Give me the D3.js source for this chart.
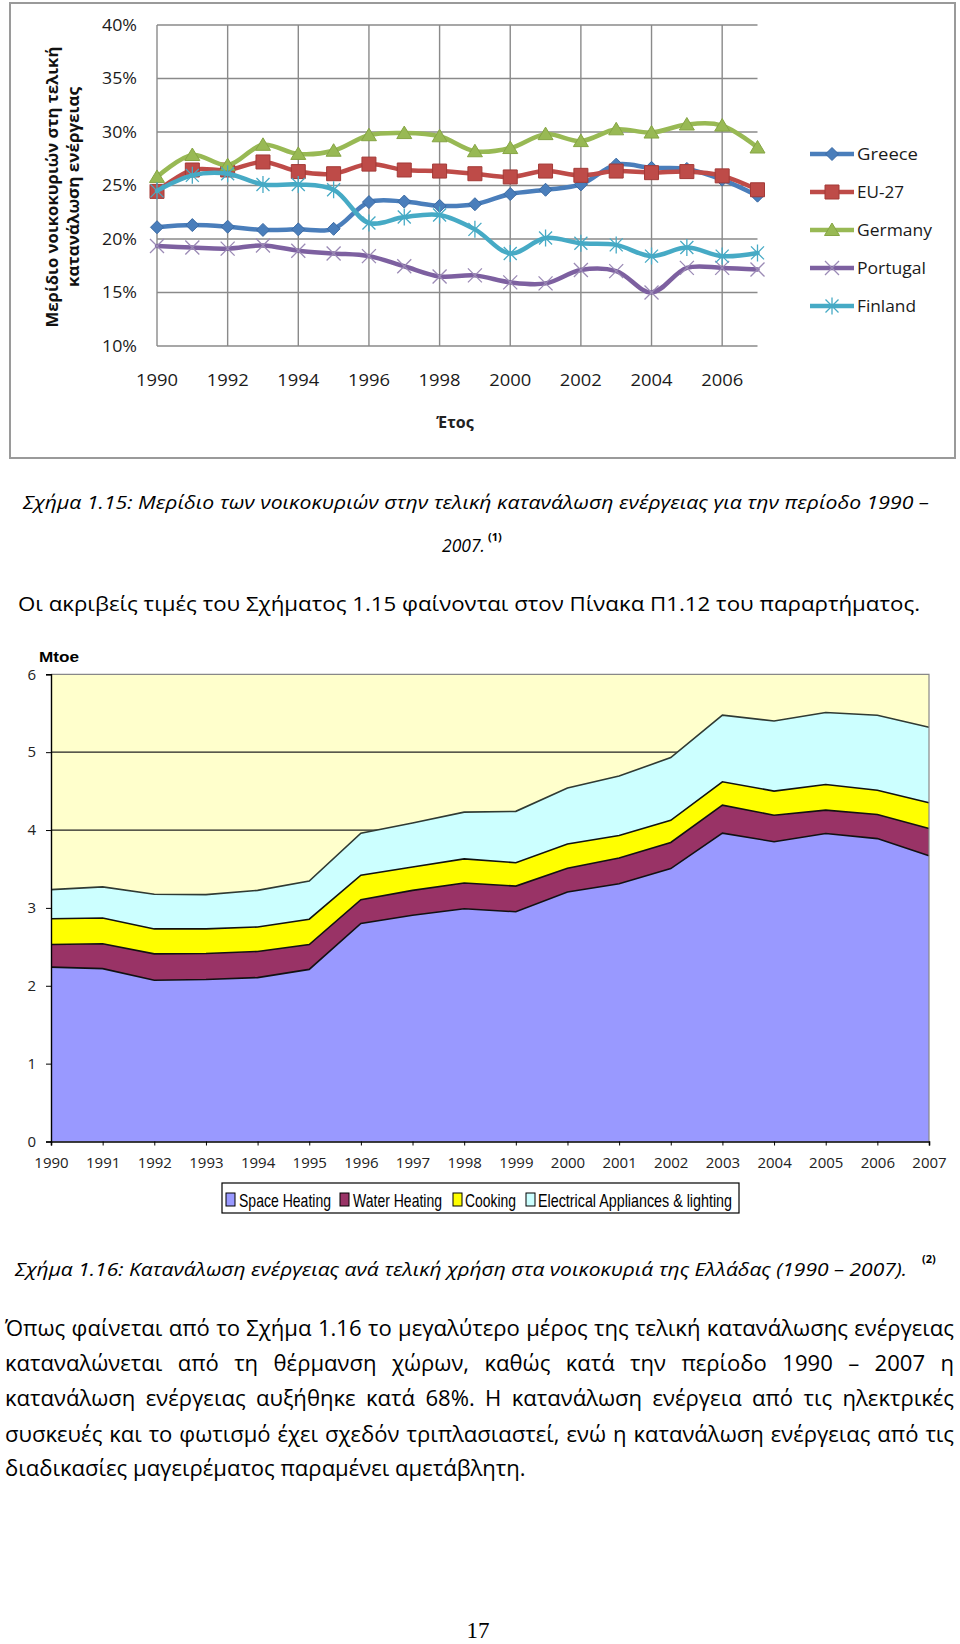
<!DOCTYPE html>
<html>
<head>
<meta charset="utf-8">
<script src="https://cdn.jsdelivr.net/npm/d3@7"></script>
<style>
  html, body { margin: 0; padding: 0; background: #fff; }
  svg { display: block; }
</style>
</head>
<body>
<svg id="page" width="960" height="1644"></svg>
<script>
// ---------------- DATA ----------------
const years = [1990,1991,1992,1993,1994,1995,1996,1997,1998,1999,2000,2001,2002,2003,2004,2005,2006,2007];

// Figure 1.15 (share of households in final energy consumption, %)
const seriesNames = ["Greece","EU-27","Germany","Portugal","Finland"];
const greece   = [21.1,21.3,21.15,20.85,20.9,20.95,23.45,23.5,23.1,23.25,24.2,24.6,25.1,26.95,26.65,26.55,25.55,24.05];
const eu27     = [24.45,26.45,26.45,27.2,26.3,26.1,27.0,26.45,26.35,26.1,25.8,26.35,25.95,26.35,26.2,26.3,25.9,24.6];
const germany  = [25.8,27.85,26.9,28.8,27.95,28.25,29.7,29.9,29.6,28.2,28.5,29.8,29.15,30.25,29.95,30.7,30.6,28.55];
const portugal = [19.35,19.2,19.1,19.4,18.9,18.65,18.4,17.45,16.5,16.6,15.95,15.85,17.1,17.0,15.0,17.3,17.3,17.15];
const finland  = [24.5,25.95,26.1,25.1,25.1,24.6,21.5,22.05,22.25,20.9,18.65,20.1,19.6,19.45,18.4,19.2,18.4,18.7];
const topYTicks = [10,15,20,25,30,35,40];
const topXTicks = [1990,1992,1994,1996,1998,2000,2002,2004,2006];
const topYTitle = ["Μερίδιο νοικοκυριών στη τελική","κατανάλωση ενέργειας"];
const topXTitle = "Έτος";

// Figure 1.16 (Mtoe by end use, Greece)
const useNames = ["Space Heating","Water Heating","Cooking","Electrical Appliances & lighting"];
const spaceHeating = [2.24,2.22,2.07,2.08,2.105,2.21,2.80,2.905,2.99,2.95,3.205,3.31,3.505,3.96,3.85,3.955,3.89,3.67];
const waterHeating = [0.29,0.32,0.34,0.335,0.335,0.32,0.305,0.32,0.33,0.33,0.305,0.33,0.335,0.36,0.34,0.30,0.31,0.35];
const cooking      = [0.33,0.33,0.32,0.315,0.315,0.325,0.315,0.30,0.31,0.30,0.31,0.29,0.285,0.30,0.31,0.33,0.31,0.33];
const electrical   = [0.375,0.40,0.445,0.44,0.47,0.49,0.54,0.565,0.60,0.66,0.72,0.765,0.805,0.855,0.90,0.925,0.965,0.97];
const botYTicks = [0,1,2,3,4,5,6];
const botUnit = "Mtoe";

// Texts
const caption1 = ["Σχήμα 1.15: Μερίδιο των νοικοκυριών στην τελική κατανάλωση ενέργειας για την περίοδο 1990 –", "2007."];
const note1 = "Οι ακριβείς τιμές του Σχήματος 1.15 φαίνονται στον Πίνακα Π1.12 του παραρτήματος.";
const caption2 = "Σχήμα 1.16: Κατανάλωση ενέργειας ανά τελική χρήση στα νοικοκυριά της Ελλάδας (1990 – 2007).";
const paragraph = [
  "Όπως φαίνεται από το Σχήμα 1.16 το μεγαλύτερο μέρος της τελική κατανάλωσης ενέργειας",
  "καταναλώνεται από τη θέρμανση χώρων, καθώς κατά την περίοδο 1990 – 2007 η",
  "κατανάλωση ενέργειας αυξήθηκε κατά 68%. Η κατανάλωση ενέργεια από τις ηλεκτρικές",
  "συσκευές και το φωτισμό έχει σχεδόν τριπλασιαστεί, ενώ η κατανάλωση ενέργειας από τις",
  "διαδικασίες μαγειρέματος παραμένει αμετάβλητη."
];
const pageNumber = "17";

// ---------------- DRAWING ----------------
const svg = d3.select("#page");
svg.append("rect").attr("width",960).attr("height",1644).attr("fill","#fff");

const SANS = "'Open Sans', 'Noto Sans', 'DejaVu Sans', sans-serif";

function fit(sel, len) {
  sel.attr("textLength", len).attr("lengthAdjust", "spacingAndGlyphs");
  return sel;
}

// ===== Top chart (Fig 1.15) =====
const topG = svg.append("g");
topG.append("rect").attr("x",10).attr("y",3).attr("width",945).attr("height",455)
  .attr("fill","#fff").attr("stroke","#9a9a9a").attr("stroke-width",2);

const tx = d3.scaleLinear().domain([1990,2007]).range([157,757.5]);
const ty = d3.scaleLinear().domain([10,40]).range([346,25]);
const gridColor = "#8a8a8a";

topG.append("g").selectAll("line").data(topYTicks).join("line")
  .attr("x1",tx(1990)).attr("x2",tx(2007)).attr("y1",d=>ty(d)).attr("y2",d=>ty(d))
  .attr("stroke",gridColor).attr("stroke-width",1.4);
topG.append("g").selectAll("line").data(topXTicks).join("line")
  .attr("x1",d=>tx(d)).attr("x2",d=>tx(d)).attr("y1",ty(40)).attr("y2",ty(10))
  .attr("stroke",gridColor).attr("stroke-width",1.4);

topG.append("g").selectAll("text").data(topYTicks).join("text")
  .attr("x",137).attr("y",d=>ty(d)).attr("dy","0.36em").attr("text-anchor","end")
  .attr("font-family",SANS).attr("font-size",16.5).attr("fill","#1a1a1a")
  .text(d=>d+"%").each(function(){ fit(d3.select(this),35); });
topG.append("g").selectAll("text").data(topXTicks).join("text")
  .attr("x",d=>tx(d)).attr("y",380).attr("dy","0.36em").attr("text-anchor","middle")
  .attr("font-family",SANS).attr("font-size",17).attr("fill","#1a1a1a")
  .text(d=>d).each(function(){ fit(d3.select(this),42); });

topG.append("text").attr("x",455).attr("y",422).attr("dy","0.36em").attr("text-anchor","middle")
  .attr("font-family",SANS).attr("font-size",16).attr("font-weight","bold").attr("fill","#222")
  .text(topXTitle);
const yt = [{t:topYTitle[0],x:52,len:281},{t:topYTitle[1],x:73,len:200}];
topG.append("g").selectAll("text").data(yt).join("text")
  .attr("transform",d=>`translate(${d.x},187) rotate(-90)`)
  .attr("text-anchor","middle").attr("dy","0.36em")
  .attr("font-family",SANS).attr("font-size",15.5).attr("font-weight","bold").attr("fill","#111")
  .text(d=>d.t).each(function(d){ fit(d3.select(this),d.len); });

const colors = ["#4a7ebb","#be4b48","#98b954","#7d60a0","#46aac5"];
const markerStroke = ["#3b6aa3","#a33a37","#86a544","#9b8ab5","#46aac5"];
const seriesData = [greece,eu27,germany,portugal,finland];
const markerKinds = ["diamond","square","triangle","x","star"];

function markerPath(kind) {
  switch(kind){
    case "diamond": return "M0,-6.5L6.5,0L0,6.5L-6.5,0Z";
    case "square": return "M-7,-7H7V7H-7Z";
    case "triangle": return "M0,-7L7.5,5.5L-7.5,5.5Z";
    case "x": return "M-7,-7L7,7M-7,7L7,-7";
    case "star": return "M-6.5,-6.5L6.5,6.5M-6.5,6.5L6.5,-6.5M0,-8.5L0,8.5";
  }
}
function drawMarker(g, kind, i) {
  const p = g.append("path").attr("d", markerPath(kind));
  if (kind === "x" || kind === "star") {
    p.attr("fill","none").attr("stroke",markerStroke[i]).attr("stroke-width",1.3);
  } else {
    p.attr("fill",colors[i]).attr("stroke",markerStroke[i]).attr("stroke-width",1);
  }
}

const line = d3.line().x((d,i)=>tx(years[i])).y(d=>ty(d)).curve(d3.curveCatmullRom.alpha(0.5));
seriesData.forEach((vals,i)=>{
  const g = topG.append("g");
  g.append("path").datum(vals).attr("d",line).attr("fill","none")
    .attr("stroke",colors[i]).attr("stroke-width",4.5).attr("stroke-linejoin","round").attr("stroke-linecap","round");
  vals.forEach((v,j)=>{
    const m = g.append("g").attr("transform",`translate(${tx(years[j])},${ty(v)})`);
    drawMarker(m, markerKinds[i], i);
  });
});

const legY = [154,192,230,268,306];
const legLen = [61,47,75,69,59];
seriesNames.forEach((name,i)=>{
  const g = topG.append("g").attr("transform",`translate(0,${legY[i]})`);
  g.append("line").attr("x1",810).attr("x2",854).attr("y1",0).attr("y2",0)
    .attr("stroke",colors[i]).attr("stroke-width",4.5);
  drawMarker(g.append("g").attr("transform","translate(832,0)"), markerKinds[i], i);
  fit(g.append("text").attr("x",857).attr("y",0).attr("dy","0.36em")
    .attr("font-family",SANS).attr("font-size",17).attr("fill","#1a1a1a").text(name), legLen[i]);
});

// ===== Captions / text =====
const textG = svg.append("g").attr("font-family",SANS).attr("fill","#000");
fit(textG.append("text").attr("x",476).attr("y",502).attr("dy","0.36em").attr("text-anchor","middle")
  .attr("font-size",19).attr("font-style","italic").text(caption1[0]), 906);
fit(textG.append("text").attr("x",442).attr("y",545).attr("dy","0.36em")
  .attr("font-size",19).attr("font-style","italic").text(caption1[1]), 43);
textG.append("text").attr("x",488).attr("y",537).attr("dy","0.36em").attr("font-size",11).attr("font-weight","bold").text("(1)");

fit(textG.append("text").attr("x",18).attr("y",604).attr("dy","0.36em")
  .attr("font-size",20).text(note1), 902);

fit(textG.append("text").attr("x",15).attr("y",1269).attr("dy","0.36em")
  .attr("font-size",19).attr("font-style","italic").text(caption2), 892);
textG.append("text").attr("x",922).attr("y",1259).attr("dy","0.36em").attr("font-size",11).attr("font-weight","bold").text("(2)");

const parY = [1328,1363,1398,1434,1468];
const parTexts = textG.selectAll("text.par").data(paragraph).join("text").attr("class","par")
  .attr("x",5).attr("y",(d,i)=>parY[i]).attr("dy","0.36em").attr("font-size",20).text(d=>d);
const lastNode = parTexts.nodes()[4];
const fs = 20 * 521 / lastNode.getComputedTextLength();
parTexts.attr("font-size", fs);
parTexts.each(function(d,i){
  if (i === 4) return;
  const w = this.getComputedTextLength();
  const gaps = (d.match(/ /g)||[]).length;
  d3.select(this).style("word-spacing", ((949 - w)/gaps) + "px");
});

svg.append("text").attr("x",478).attr("y",1630).attr("dy","0.35em").attr("text-anchor","middle")
  .attr("font-family","'Liberation Serif','DejaVu Serif',serif").attr("font-size",23).text(pageNumber);

// ===== Bottom chart (Fig 1.16) =====
const bot = svg.append("g");
const bx = d3.scaleLinear().domain([1990,2007]).range([51,929]);
const by = d3.scaleLinear().domain([0,6]).range([1141.5,674.3]);

bot.append("rect").attr("x",bx(1990)).attr("y",by(6)).attr("width",bx(2007)-bx(1990)).attr("height",by(0)-by(6))
  .attr("fill","#ffffcc");
bot.append("g").selectAll("line").data(botYTicks.filter(d=>d>0 && d<6)).join("line")
  .attr("x1",bx(1990)).attr("x2",bx(2007)).attr("y1",d=>by(d)).attr("y2",d=>by(d))
  .attr("stroke","#222").attr("stroke-width",1.3);

const tableRows = years.map((y,i)=>({year:y, s:spaceHeating[i], w:waterHeating[i], c:cooking[i], e:electrical[i]}));
const stack = d3.stack().keys(["s","w","c","e"])(tableRows);
const areaColors = ["#9999ff","#993366","#ffff00","#ccffff"];
const area = d3.area().x(d=>bx(d.data.year)).y0(d=>by(d[0])).y1(d=>by(d[1]));
const topLine = d3.line().x(d=>bx(d.data.year)).y(d=>by(d[1]));
stack.forEach((layer,i)=>{
  bot.append("path").datum(layer).attr("d",area).attr("fill",areaColors[i]);
});
stack.forEach((layer,i)=>{
  bot.append("path").datum(layer).attr("d",topLine).attr("fill","none")
    .attr("stroke", i===3 ? "#2f3a33" : "#111").attr("stroke-width",1.6);
});
bot.append("path").attr("d",`M${bx(1990)},${by(6)}H${bx(2007)}V${by(0)}`)
  .attr("fill","none").attr("stroke","#888").attr("stroke-width",1.2);

const yAxis = d3.axisLeft(by).tickValues(botYTicks).tickSize(5).tickFormat(d3.format("d"));
const yg = bot.append("g").attr("transform",`translate(${bx(1990)},0)`).call(yAxis);
yg.select(".domain").attr("stroke","#000").attr("stroke-width",1.4);
yg.selectAll(".tick line").attr("stroke","#000");
yg.selectAll(".tick text").attr("font-family",SANS).attr("font-size",15).attr("fill","#222").attr("x",-15);

const xAxis = d3.axisBottom(bx).tickValues(years).tickSize(4).tickFormat(d3.format("d"));
const xg = bot.append("g").attr("transform",`translate(0,${by(0)})`).call(xAxis);
xg.select(".domain").attr("stroke","#000").attr("stroke-width",1.6);
xg.selectAll(".tick line").attr("stroke","#000");
xg.selectAll(".tick text").attr("font-family",SANS).attr("font-size",15).attr("fill","#222").attr("y",16);

fit(bot.append("text").attr("x",39).attr("y",657).attr("dy","0.36em")
  .attr("font-family","'Liberation Sans', Arial, sans-serif").attr("font-weight","bold").attr("font-size",14).text(botUnit), 40);

bot.append("rect").attr("x",222).attr("y",1183).attr("width",517).attr("height",30)
  .attr("fill","#fff").attr("stroke","#000").attr("stroke-width",1.2);
const swX = [226,340,453,526];
const txX = [239,353,465,538];
const txLen = [92,89,51,194];
useNames.forEach((n,i)=>{
  bot.append("rect").attr("x",swX[i]).attr("y",1193).attr("width",9).attr("height",13)
    .attr("fill",areaColors[i]).attr("stroke","#000").attr("stroke-width",1);
  fit(bot.append("text").attr("x",txX[i]).attr("y",1207)
    .attr("font-family","'Liberation Sans Narrow','Liberation Sans', Arial, sans-serif").attr("font-size",18.5).text(n), txLen[i]);
});
</script>
</body>
</html>
